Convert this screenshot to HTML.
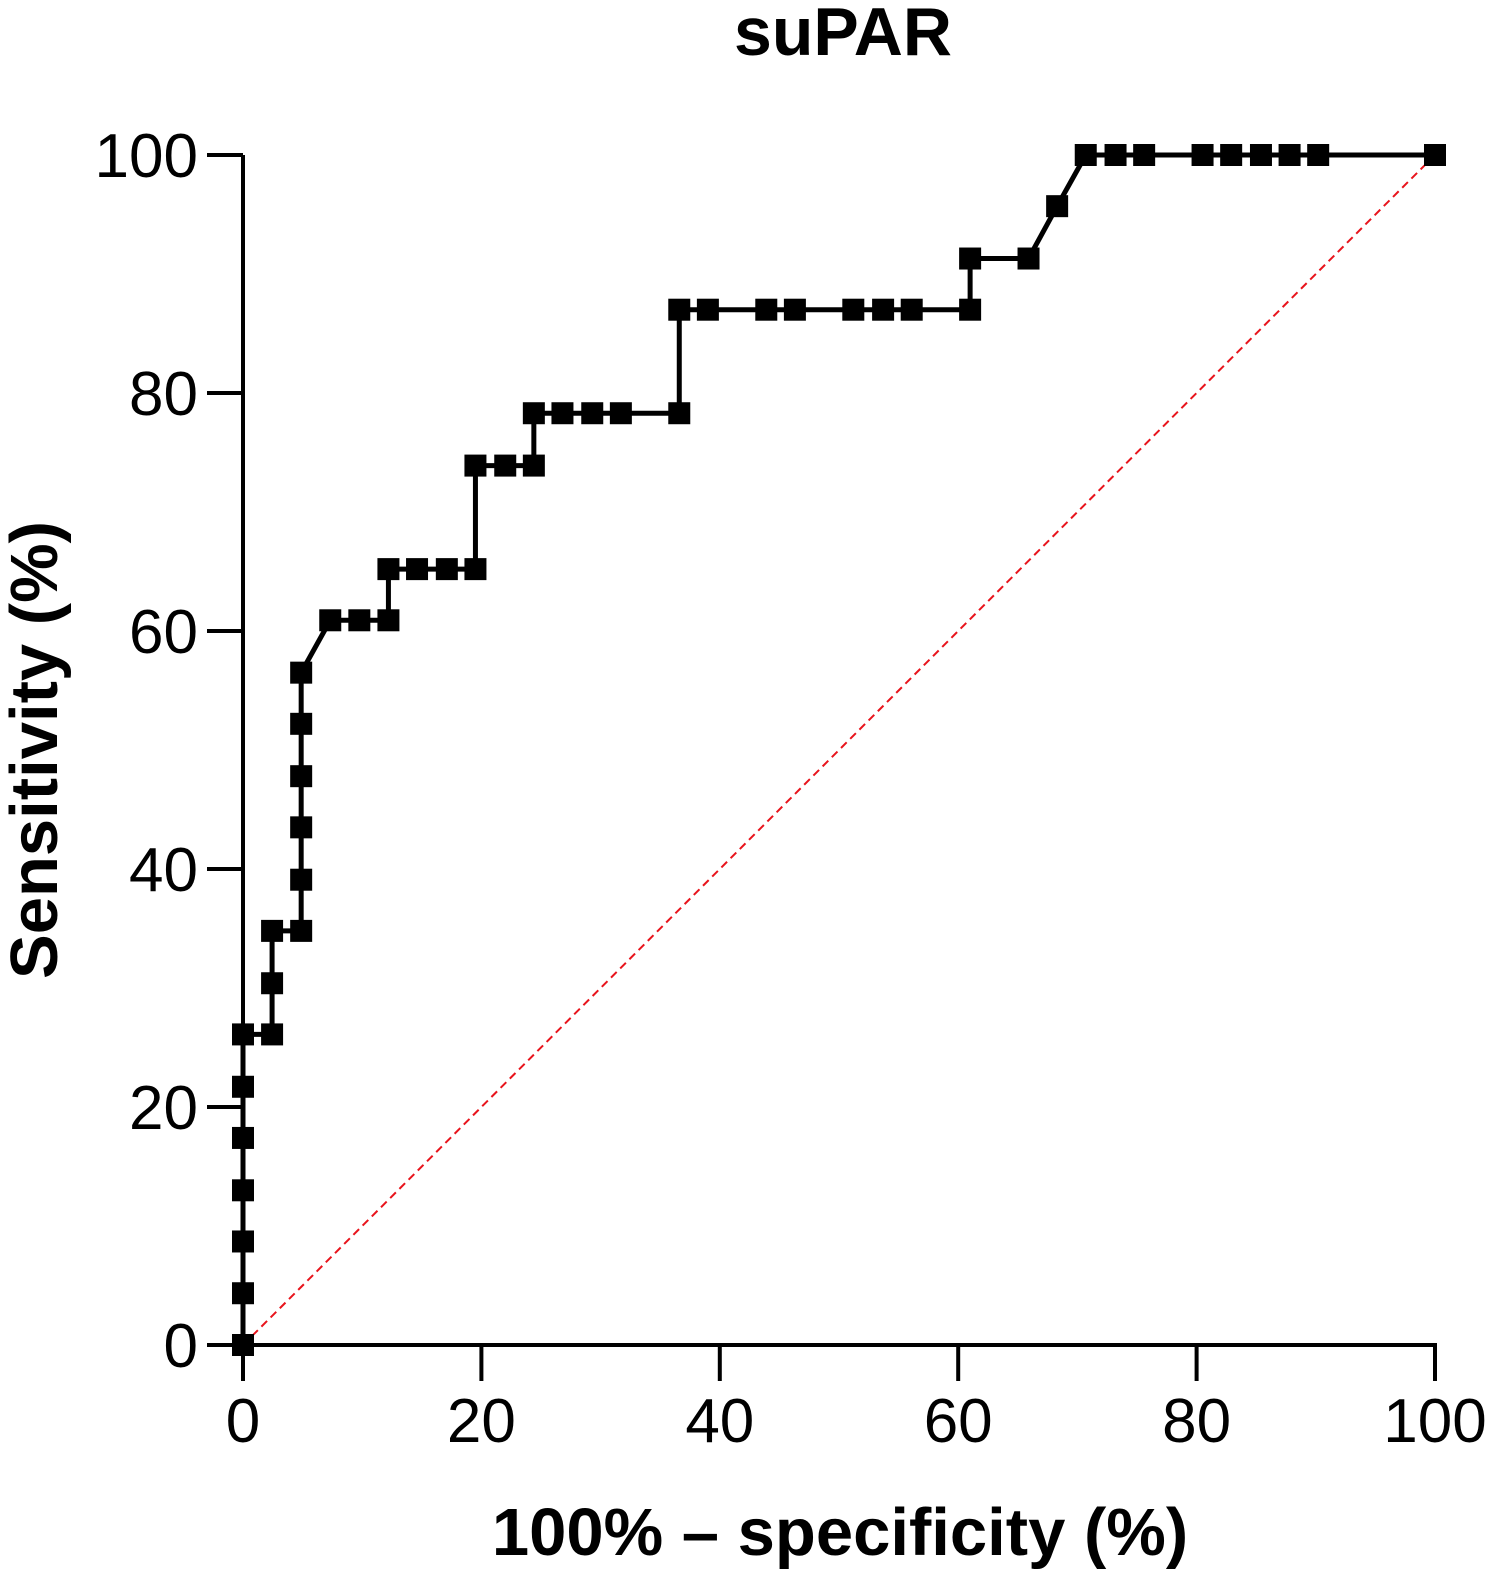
<!DOCTYPE html>
<html><head><meta charset="utf-8"><style>body{margin:0;background:#fff}svg{display:block}text{font-family:"Liberation Sans",Arial,sans-serif}</style></head>
<body>
<svg id="chart" width="1497" height="1582" viewBox="0 0 1497 1582">
<text x="843" y="55" text-anchor="middle" font-size="68" font-weight="bold">suPAR</text>
<g id="axes"></g>
<g id="series"></g>
<text transform="translate(57,750) rotate(-90)" text-anchor="middle" font-size="67" font-weight="bold">Sensitivity (%)</text>
<text x="840" y="1555" text-anchor="middle" font-size="67" font-weight="bold">100% – specificity (%)</text>
</svg>
<script>
const specificity = [0,0,0,0,0,0,0,2.44,2.44,2.44,4.88,4.88,4.88,4.88,4.88,4.88,7.32,9.76,12.2,12.2,14.6,17.1,19.5,19.5,22.0,24.4,24.4,26.8,29.3,31.7,36.6,36.6,39.0,43.9,46.3,51.2,53.7,56.1,61.0,61.0,65.9,68.3,70.7,73.2,75.6,80.5,82.9,85.4,87.8,90.2,100];
const sensitivity = [0,4.35,8.70,13.0,17.4,21.7,26.1,26.1,30.4,34.8,34.8,39.1,43.5,47.8,52.2,56.5,60.9,60.9,60.9,65.2,65.2,65.2,65.2,73.9,73.9,73.9,78.3,78.3,78.3,78.3,78.3,87.0,87.0,87.0,87.0,87.0,87.0,87.0,87.0,91.3,91.3,95.7,100,100,100,100,100,100,100,100,100];
const ticks = [0,20,40,60,80,100];
const NS="http://www.w3.org/2000/svg";
const X0=243,X1=1435,Y0=1345,Y1=155;
function sx(v){return X0+(X1-X0)*v/100;}
function sy(v){return Y0-(Y0-Y1)*v/100;}
function mk(tag,attrs,parent){const e=document.createElementNS(NS,tag);for(const k in attrs)e.setAttribute(k,attrs[k]);parent.appendChild(e);return e;}
const axes=document.getElementById('axes'),series=document.getElementById('series');
let el=mk('line',{x1:X0,y1:Y0,x2:X0,y2:Y1,stroke:'#000','stroke-width':4},axes);


el=mk('line',{x1:X0-2,y1:Y0,x2:X1+2,y2:Y0,stroke:'#000','stroke-width':4},axes);


ticks.forEach(t=>{
 let a=mk('line',{x1:207,y1:sy(t),x2:X0,y2:sy(t),stroke:'#000','stroke-width':4},axes);
 
 
 let b=mk('text',{x:198,y:sy(t)+22,'text-anchor':'end','font-size':62},axes);b.textContent=t;
 
 
 let c=mk('line',{x1:sx(t),y1:Y0,x2:sx(t),y2:Y0+36,stroke:'#000','stroke-width':4},axes);
 
 
 let d=mk('text',{x:sx(t),y:1442,'text-anchor':'middle','font-size':62},axes);d.textContent=t;
 
 
});
el=mk('line',{x1:sx(0),y1:sy(0),x2:sx(100),y2:sy(100),stroke:'#e8141c','stroke-width':2,'stroke-dasharray':'8,5'},series);


el=mk('polyline',{points:specificity.map((v,i)=>sx(v)+','+sy(sensitivity[i])).join(' '),fill:'none',stroke:'#000','stroke-width':5},series);


specificity.forEach((v,i)=>{
 const r=mk('rect',{x:sx(v)-11,y:sy(sensitivity[i])-11,width:22,height:22,fill:'#000'},series);
 
 
});
</script>
</body></html>
